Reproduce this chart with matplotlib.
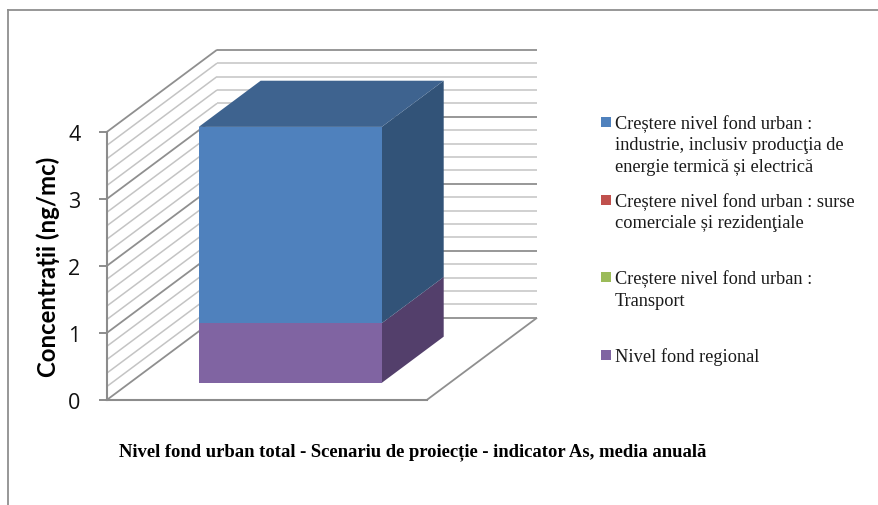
import matplotlib
matplotlib.use("Agg")
import matplotlib.pyplot as plt
from matplotlib.patches import Polygon, Rectangle
from matplotlib.lines import Line2D
import numpy as np

W, H = 879, 506
series_names = ["Nivel fond regional", "Transport", "Surse comerciale", "Industrie"]
series_values = [0.89, 0.0, 0.0, 2.93]
front_colors = ["#8064A2", "#9BBB59", "#C0504D", "#4F81BD"]
side_colors = ["#533F6B", "#647A3A", "#7D3432", "#325378"]
top_color = "#3E638F"
y_ticks = [0, 1, 2, 3, 4]
y_minor = [0.2 * i for i in range(21)]
legend_rows = [
    ("#4F81BD", 123, [("Creștere nivel fond urban :", 124),
                      ("industrie, inclusiv producţia de", 146),
                      ("energie termică și electrică", 167)]),
    ("#C0504D", 201, [("Creștere nivel fond urban : surse", 202),
                      ("comerciale și rezidenţiale", 223)]),
    ("#9BBB59", 278, [("Creștere nivel fond urban :", 279),
                      ("Transport", 301)]),
    ("#8064A2", 356, [("Nivel fond regional", 357)]),
]
title = "Nivel fond urban total - Scenariu de proiecție - indicator As, media anuală"
ylabel = "Concentrații (ng/mc)"

fig = plt.figure(figsize=(W / 100, H / 100), dpi=100, facecolor="white")
ax = fig.add_axes([107 / W, 1 - 400.8 / H, 320 / W, 268 / H])
ax.set_xlim(0, 1)
ax.set_ylim(0, 4)
ax.patch.set_visible(False)

DX = 110 / 320   # full depth, x units
DY = 82 / 67     # full depth, y units


def proj(x, y, d):
    return (x + d * DX, y + d * DY)


def line(p, q, color, lw):
    ax.plot([p[0], q[0]], [p[1], q[1]], color=color, lw=lw, clip_on=False,
            solid_capstyle="butt", zorder=1)


# walls
for v in y_minor:
    major = abs(v - round(v)) < 1e-9
    c = "#8F8F8F" if major else "#C4C4C4"
    lw = 1.3 if major else 1.1
    line(proj(0, v, 0), proj(0, v, 1), c, lw)
    line(proj(0, v, 1), proj(1, v, 1), c, lw)
# floor
line(proj(1, 0, 0), proj(1, 0, 1), "#8F8F8F", 1.3)

# stacked 3D bar
x0, x1 = 0.2155, 0.7875
d0, d1 = 0.207, 0.77
bottom = 0.0
for val, fc, sc in zip(series_values, front_colors, side_colors):
    if val <= 0:
        continue
    top = bottom + val
    ax.add_patch(Polygon([proj(x1, bottom, d0), proj(x1, bottom, d1), proj(x1, top, d1), proj(x1, top, d0)],
                         closed=True, fc=sc, ec="none", zorder=3, clip_on=False))
    ax.add_patch(Polygon([proj(x0, bottom, d0), proj(x1, bottom, d0), proj(x1, top, d0), proj(x0, top, d0)],
                         closed=True, fc=fc, ec="none", zorder=4, clip_on=False))
    bottom = top
ax.add_patch(Polygon([proj(x0, bottom, d0), proj(x1, bottom, d0), proj(x1, bottom, d1), proj(x0, bottom, d1)],
                     closed=True, fc=top_color, ec="none", zorder=3, clip_on=False))

# axes
for s in ("top", "right"):
    ax.spines[s].set_visible(False)
for s in ("left", "bottom"):
    ax.spines[s].set_color("#8C8C8C")
    ax.spines[s].set_linewidth(1.5)
ax.set_xticks([])
ax.set_yticks(y_ticks)
ax.tick_params(axis="y", length=6, width=1.4, color="#8C8C8C", pad=13,
               labelsize=15.5, labelcolor="#111111")
for t in ax.get_yticklabels():
    t.set_fontfamily("Open Sans")
    t.set_verticalalignment("center_baseline")
ax.set_ylabel(ylabel, fontfamily="Lato", fontweight="bold", fontsize=17.3, color="black")
ax.yaxis.set_label_coords((60 - 107) / 320, (400 - 266) / 268)

# chart border
fig.add_artist(Line2D([8 / W, 8 / W], [0, 1 - 10.5 / H], color="#8F8F8F", lw=1.3))
fig.add_artist(Line2D([8 / W, 1], [1 - 10.5 / H, 1 - 10.5 / H], color="#8F8F8F", lw=1.3))

# legend
for color, my, lines in legend_rows:
    fig.add_artist(Rectangle((601 / W, 1 - (my + 5) / H), 10 / W, 10 / H, fc=color, ec="none",
                             transform=fig.transFigure))
    for text, ty in lines:
        fig.text(615 / W, 1 - ty / H, text, fontfamily="Liberation Serif", fontsize=13.2,
                 color="#1A1A1A", va="center", ha="left")

fig.text(119 / W, 1 - 452 / H, title, fontfamily="Liberation Serif", fontweight="bold",
         fontsize=13.4, color="black", va="center", ha="left")

fig.savefig("out.png", dpi=100)
